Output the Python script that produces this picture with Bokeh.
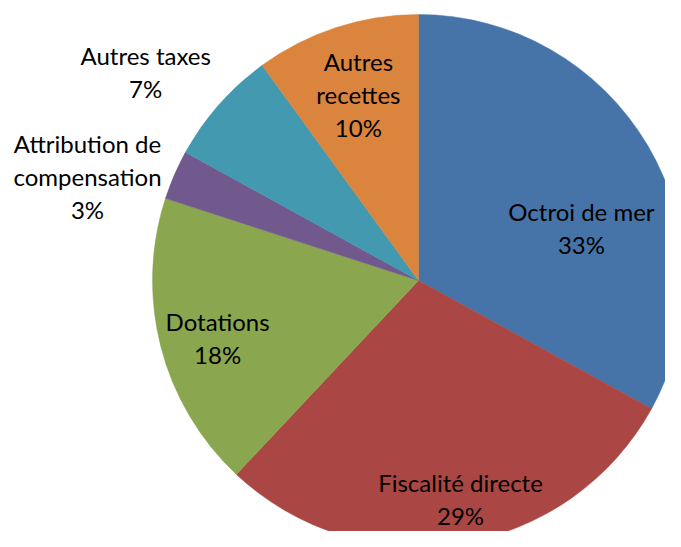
import math
from bokeh.plotting import figure
from bokeh.models import ColumnDataSource, Range1d
from bokeh.core.properties import value
from bokeh.embed import file_html
from bokeh.resources import INLINE

# ---- data ----
categories = ["Octroi de mer", "Fiscalité directe", "Dotations",
              "Attribution de\ncompensation", "Autres taxes", "Autres\nrecettes"]
shares = [33, 29, 18, 3, 7, 10]
colors = ["#4674A8", "#AA4744", "#8AA64F", "#71598E", "#4399B0", "#DB843D"]

# ---- layout (label polar placement: degrees clockwise from top, fraction of radius) ----
label_theta = [72.3, 169.1, 253.9, 287.4, 307.4, 342.1]
label_rfrac = [0.643, 0.835, 0.786, 1.304, 1.291, 0.735]

W, H = 665, 531
CX, CY, R = 418, 267, 266
LINE = 33

total = float(sum(shares))
starts, ends = [], []
cum = 0.0
for s in shares:
    starts.append(math.pi / 2 - cum / total * 2 * math.pi)
    cum += s
    ends.append(math.pi / 2 - cum / total * 2 * math.pi)

src = ColumnDataSource(dict(start=starts, end=ends, color=colors))

p = figure(width=W, height=H, output_backend="svg", toolbar_location=None,
           x_range=Range1d(0, W), y_range=Range1d(547 - H, 547),
           min_border=0, outline_line_color=None, background_fill_color="white",
           border_fill_color="white")
p.axis.visible = False
p.grid.visible = False

p.wedge(x=CX, y=CY, radius=R, start_angle="start", end_angle="end",
        direction="clock", fill_color="color", line_color="color",
        line_width=0.5, source=src)

tx, ty, tt = [], [], []
for name, s, th, rf in zip(categories, shares, label_theta, label_rfrac):
    lines = name.split("\n") + [f"{round(s / total * 100)}%"]
    a = math.radians(th)
    lx = CX + rf * R * math.sin(a)
    ly = CY + rf * R * math.cos(a)
    n = len(lines)
    for i, ln in enumerate(lines):
        tx.append(lx)
        ty.append(ly + ((n - 1) / 2 - i) * LINE)
        tt.append(ln)

p.text(x=tx, y=ty, text=tt, text_align="center", text_baseline="middle",
       text_font=value("Lato"), text_font_size="24px", text_color="black")

open("out.html", "w").write(file_html(p, INLINE))
